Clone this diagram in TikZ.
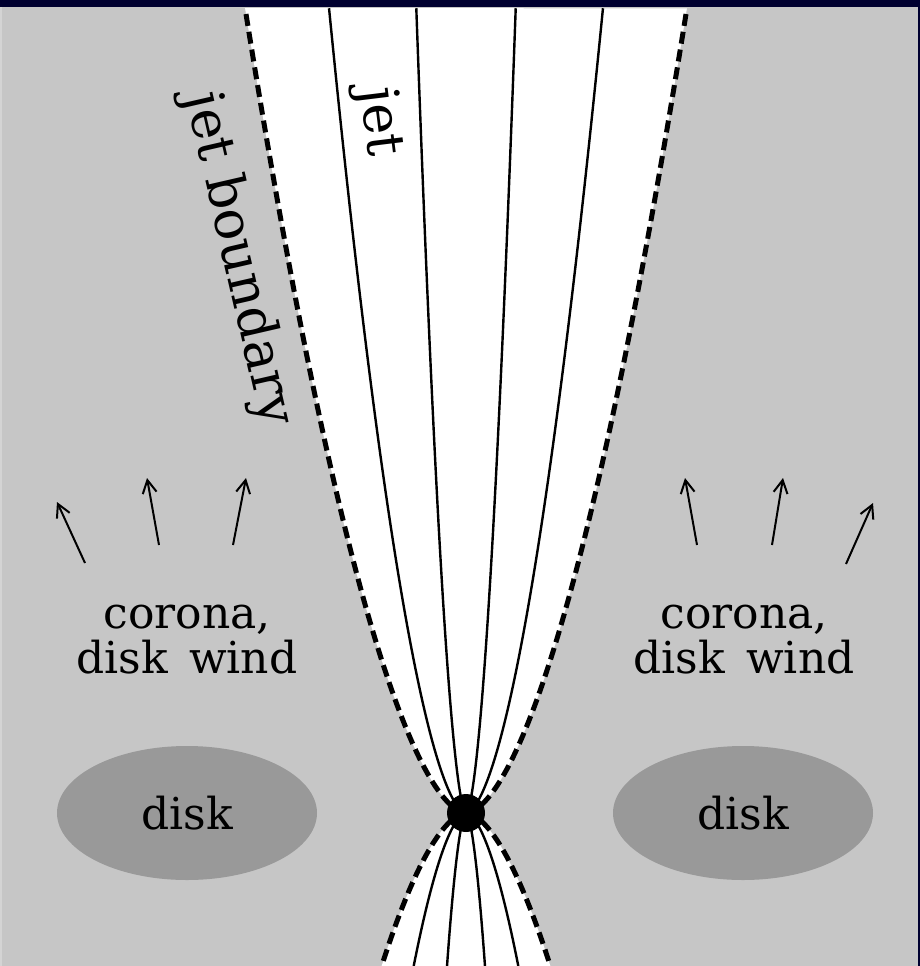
\documentclass[tikz,border=0pt]{standalone}
\usepackage{fontspec}
\setmainfont{DejaVu Serif}
\usetikzlibrary{arrows.meta,shapes.geometric}
\definecolor{bggray}{RGB}{198,198,198}
\definecolor{edgegray}{RGB}{212,212,212}
\definecolor{diskgray}{RGB}{153,153,153}
\definecolor{navy}{RGB}{0,0,48}
\begin{document}
\begin{tikzpicture}[x=1pt,y=-1pt,
  % jet field-line shape: x offset grows as height^0.58 (parameter s = sqrt(height))
  declare function={jx(\f,\s)=466+\f*4.56*\s*abs(\s)^0.16;},
  boundary/.style={line width=5pt, dash pattern=on 12pt off 6pt},
  fieldline/.style={line width=2.4pt},
  flow/.style={line width=2pt, -{Straight Barb[length=13pt,width=14pt,line width=2pt]}},
  txt/.style={font=\fontsize{44}{46}\selectfont, inner sep=0pt},
  bigtxt/.style={font=\fontsize{53}{55}\selectfont, inner sep=0pt},
  disk/.style={ellipse, fill=diskgray, minimum width=260pt, minimum height=134pt,
               inner sep=0pt, font=\fontsize{44}{46}\selectfont}]
\useasboundingbox (0,0) rectangle (920,966);
% background and frame
\fill[bggray] (0,0) rectangle (920,966);
\fill[edgegray] (0,7) rectangle (2,966);
\fill[navy] (0,0) rectangle (920,7);
\fill[navy] (918,0) rectangle (920,966);

\begin{scope}
\clip (0,7) rectangle (918,966);
% jet cones
\fill[white] plot[domain=-28.37:28.37, samples=200, variable=\s] ({jx(1,\s)},{813-\s*\s}) -- cycle;
\fill[white] plot[domain=-12.37:12.37, samples=120, variable=\s] ({jx(1,\s)},{813+\s*\s}) -- cycle;
% field lines
\foreach \f in {-0.62,-0.225,0.225,0.62} {
  \draw[fieldline] plot[domain=0.01:28.37, samples=150, variable=\s] ({jx(\f,\s)},{813-\s*\s});
  \draw[fieldline] plot[domain=0.01:12.37, samples=80, variable=\s] ({jx(\f,\s)},{813+\s*\s});
}
% jet boundaries
\foreach \f in {-1,1} {
  \draw[boundary] plot[domain=0.01:28.37, samples=150, variable=\s] ({jx(\f,\s)},{813-\s*\s});
  \draw[boundary] plot[domain=0.01:12.37, samples=80, variable=\s] ({jx(\f,\s)},{813+\s*\s});
}
\end{scope}

% central object
\node[circle, fill=black, minimum size=38pt, inner sep=0pt] (bh) at (466,813) {};

% labels along the jet
\node[bigtxt, rotate=-77] (jb) at (238,259) {jet boundary};
\node[bigtxt, rotate=-83] (jet) at (378,122) {jet};

% disks
\node[disk] (diskL) at (187,813) {disk};
\node[disk] (diskR) at (743,813) {disk};

% corona / wind labels
\node[txt, anchor=base] (corL) at (187,628) {corona,};
\node[txt, anchor=base] (windL) at (187,673) {disk\, wind};
\node[txt, anchor=base] (corR) at (744,628) {corona,};
\node[txt, anchor=base] (windR) at (744,673) {disk\, wind};

% outflow arrows
\coordinate (a1s) at (85,563);  \coordinate (a1e) at (57,502);
\coordinate (a2s) at (159,545); \coordinate (a2e) at (147,478);
\coordinate (a3s) at (233,545); \coordinate (a3e) at (246,478);
\coordinate (b1s) at (697,545); \coordinate (b1e) at (685,478);
\coordinate (b2s) at (772,545); \coordinate (b2e) at (783,478);
\coordinate (b3s) at (846,564); \coordinate (b3e) at (873,503);
\foreach \p in {a1,a2,a3,b1,b2,b3}
  \draw[flow] (\p s) -- (\p e);
\end{tikzpicture}
\end{document}
